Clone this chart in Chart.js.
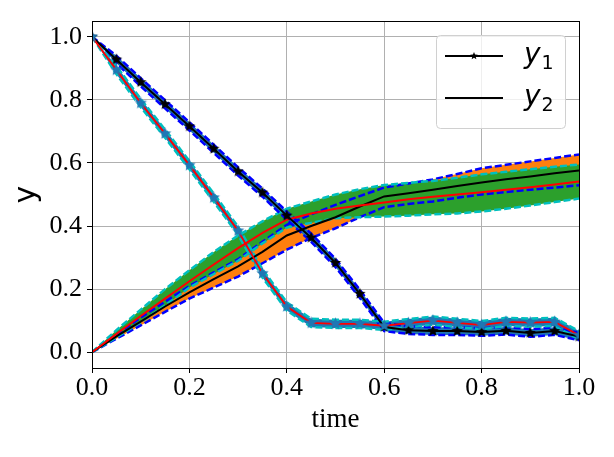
<!DOCTYPE html>
<html>
<head>
<meta charset="utf-8">
<script src="https://cdn.jsdelivr.net/npm/chart.js@4"></script>
<style>
  html, body { margin: 0; padding: 0; background: #fff; }
  canvas { display: block; }
</style>
</head>
<body>
<canvas id="chart" width="614" height="457"></canvas>
<script>
// time grid (every 0.05)
const t = [0, 0.05, 0.1, 0.15, 0.2, 0.25, 0.3, 0.35, 0.4, 0.45, 0.5, 0.55, 0.6, 0.65, 0.7, 0.75, 0.8, 0.85, 0.9, 0.95, 1.0];

// y1 reference (black, stars) and its band
const y1 = [1.0, 0.928, 0.856, 0.786, 0.716, 0.645, 0.573, 0.506, 0.433, 0.363, 0.283, 0.185, 0.08, 0.07, 0.067, 0.067, 0.064, 0.068, 0.061, 0.067, 0.05];
const y1Upper = [1.0, 0.94, 0.869, 0.799, 0.729, 0.658, 0.586, 0.519, 0.446, 0.376, 0.296, 0.198, 0.093, 0.082, 0.079, 0.079, 0.076, 0.08, 0.073, 0.079, 0.062];
const y1Lower = [1.0, 0.916, 0.843, 0.773, 0.703, 0.632, 0.56, 0.493, 0.42, 0.35, 0.27, 0.172, 0.067, 0.058, 0.055, 0.055, 0.052, 0.056, 0.049, 0.055, 0.038];

// y1 second estimate (red line, blue stars) and its band
const y1Est = [1.0, 0.895, 0.79, 0.693, 0.593, 0.49, 0.385, 0.25, 0.145, 0.093, 0.09, 0.09, 0.084, 0.092, 0.1, 0.093, 0.086, 0.096, 0.094, 0.096, 0.054];
const y1EstUpper = [1.0, 0.908, 0.803, 0.706, 0.606, 0.503, 0.398, 0.263, 0.158, 0.106, 0.103, 0.103, 0.097, 0.105, 0.113, 0.106, 0.099, 0.109, 0.107, 0.109, 0.067];
const y1EstLower = [1.0, 0.882, 0.777, 0.68, 0.58, 0.477, 0.372, 0.237, 0.132, 0.08, 0.077, 0.077, 0.071, 0.079, 0.087, 0.08, 0.073, 0.083, 0.081, 0.083, 0.041];

// y2 reference (black) and its band
const y2 = [0, 0.05, 0.097, 0.145, 0.19, 0.232, 0.272, 0.318, 0.37, 0.40, 0.428, 0.462, 0.494, 0.504, 0.515, 0.527, 0.538, 0.548, 0.557, 0.567, 0.576];
const y2Upper = [0, 0.056, 0.11, 0.16, 0.21, 0.253, 0.295, 0.35, 0.404, 0.437, 0.467, 0.495, 0.522, 0.535, 0.548, 0.565, 0.583, 0.594, 0.605, 0.616, 0.627];
const y2Lower = [0, 0.043, 0.085, 0.128, 0.17, 0.205, 0.24, 0.282, 0.325, 0.362, 0.393, 0.428, 0.46, 0.47, 0.478, 0.49, 0.50, 0.508, 0.515, 0.522, 0.529];

// y2 second estimate (red) and its band
const y2Est = [0, 0.058, 0.115, 0.17, 0.225, 0.278, 0.33, 0.378, 0.42, 0.44, 0.455, 0.465, 0.475, 0.485, 0.493, 0.5, 0.507, 0.515, 0.523, 0.532, 0.541];
const y2EstUpper = [0, 0.07, 0.135, 0.2, 0.26, 0.318, 0.37, 0.415, 0.455, 0.478, 0.50, 0.517, 0.53, 0.537, 0.543, 0.553, 0.564, 0.572, 0.58, 0.588, 0.595];
const y2EstLower = [0, 0.047, 0.095, 0.148, 0.205, 0.248, 0.29, 0.345, 0.395, 0.41, 0.425, 0.428, 0.43, 0.433, 0.437, 0.44, 0.446, 0.455, 0.465, 0.476, 0.487];

const xTicks = [0, 0.2, 0.4, 0.6, 0.8, 1.0];
const yTicks = [0, 0.2, 0.4, 0.6, 0.8, 1.0];
const legendLabels = [['y', '1'], ['y', '2']];

(function () {
  const ORANGE = '#ff7f0e';
  const GREEN = '#2ca02c';
  const TAB_BLUE = '#1f77b4';
  const BLUE = '#0000ff';
  const CYAN = '#00bfbf';
  const RED = '#ff0000';
  const BLACK = '#000000';
  const SERIF = '"Liberation Serif", "Times New Roman", serif';

  function makeStar(color, r) {
    const c = document.createElement('canvas');
    const s = Math.ceil(r * 2 + 2);
    c.width = s; c.height = s;
    const g = c.getContext('2d');
    g.translate(s / 2, s / 2);
    g.beginPath();
    for (let i = 0; i < 10; i++) {
      const rr = i % 2 === 0 ? r : r * 0.45;
      const a = -Math.PI / 2 + i * Math.PI / 5;
      g.lineTo(rr * Math.cos(a), rr * Math.sin(a));
    }
    g.closePath();
    g.fillStyle = color;
    g.fill();
    return c;
  }

  const starBlack = makeStar(BLACK, 6);
  const starBlue = makeStar(TAB_BLUE, 6.5);
  const starLegend = makeStar(BLACK, 4);

  function series(values) {
    return t.map(function (x, i) { return { x: x, y: values[i] }; });
  }

  function bound(values, color, fillColor) {
    return {
      data: series(values),
      borderColor: color,
      borderWidth: 2.5,
      borderDash: [7, 3],
      pointRadius: 0,
      fill: fillColor ? '-1' : false,
      backgroundColor: fillColor || 'transparent'
    };
  }

  function line(values, color, width) {
    return { data: series(values), borderColor: color, borderWidth: width, pointRadius: 0, fill: false };
  }

  const datasets = [
    bound(y2Lower, BLUE), bound(y2Upper, BLUE, ORANGE),
    bound(y2EstLower, CYAN), bound(y2EstUpper, CYAN, GREEN),
    bound(y1Lower, BLUE), bound(y1Upper, BLUE, TAB_BLUE),
    bound(y1EstLower, CYAN), bound(y1EstUpper, CYAN, TAB_BLUE),
    line(y2, BLACK, 2),
    line(y2Est, RED, 2),
    Object.assign(line(y1, BLACK, 2), { pointRadius: 4, pointStyle: starBlack }),
    line(y1Est, RED, 1.8),
    { data: series(y1Est), showLine: false, pointRadius: 4, pointStyle: starBlue, borderColor: TAB_BLUE, backgroundColor: TAB_BLUE }
  ];
  // later datasets on top
  datasets.forEach(function (d, i) { d.order = 100 - i; d.tension = 0; });

  const framePlugin = {
    id: 'frame',
    afterDraw: function (chart) {
      const a = chart.chartArea;
      const ctx = chart.ctx;
      ctx.save();
      ctx.strokeStyle = BLACK;
      ctx.lineWidth = 1;
      ctx.strokeRect(Math.round(a.left) + 0.5, Math.round(a.top) + 0.5, Math.round(a.right - a.left), Math.round(a.bottom - a.top));
      ctx.restore();
    }
  };

  const legendPlugin = {
    id: 'boxLegend',
    afterDraw: function (chart) {
      const a = chart.chartArea;
      const ctx = chart.ctx;
      const w = 129, h = 93;
      const x0 = a.right - 14 - w;
      const y0 = a.top + 14;
      ctx.save();
      ctx.beginPath();
      ctx.roundRect(x0 + 0.5, y0 + 0.5, w, h, 4);
      ctx.fillStyle = 'rgba(255,255,255,0.8)';
      ctx.fill();
      ctx.strokeStyle = '#d0d0d0';
      ctx.lineWidth = 1;
      ctx.stroke();
      legendLabels.forEach(function (lab, i) {
        const ly = y0 + 21 + i * 42;
        ctx.beginPath();
        ctx.moveTo(x0 + 9, ly);
        ctx.lineTo(x0 + 67, ly);
        ctx.strokeStyle = BLACK;
        ctx.lineWidth = 2;
        ctx.stroke();
        if (i === 0) ctx.drawImage(starLegend, x0 + 38 - starLegend.width / 2, ly - starLegend.height / 2);
        ctx.fillStyle = BLACK;
        ctx.textBaseline = 'alphabetic';
        ctx.textAlign = 'left';
        ctx.font = 'italic 28px "DejaVu Sans"';
        ctx.fillText(lab[0], x0 + 88, ly + 7);
        const yw = ctx.measureText(lab[0]).width;
        ctx.font = '19px "DejaVu Sans"';
        ctx.fillText(lab[1], x0 + 88 + yw + 1, ly + 13);
      });
      ctx.restore();
    }
  };

  new Chart(document.getElementById('chart').getContext('2d'), {
    type: 'line',
    data: { datasets: datasets },
    options: {
      responsive: false,
      animation: false,
      devicePixelRatio: 1,
      layout: { padding: { left: 0, right: 35, top: 21, bottom: 0 } },
      plugins: {
        legend: { display: false },
        tooltip: { enabled: false },
        filler: { drawTime: 'beforeDatasetsDraw' }
      },
      scales: {
        x: {
          type: 'linear',
          min: 0,
          max: 1,
          afterBuildTicks: function (scale) { scale.ticks = xTicks.map(function (v) { return { value: v }; }); },
          afterFit: function (scale) { scale.height = 89; },
          border: { display: false },
          grid: { color: '#b0b0b0', lineWidth: 1, drawTicks: true, tickLength: 5, tickColor: BLACK, tickWidth: 1 },
          ticks: {
            color: BLACK,
            padding: 0,
            maxRotation: 0,
            font: { family: SERIF, size: 26 },
            callback: function (v) { return Number(v).toFixed(1); }
          },
          title: { display: true, text: 'time', color: BLACK, font: { family: SERIF, size: 27 }, padding: { top: 0, bottom: 21 } }
        },
        y: {
          type: 'linear',
          min: -0.05,
          max: 1.05,
          afterBuildTicks: function (scale) { scale.ticks = yTicks.map(function (v) { return { value: v }; }); },
          afterFit: function (scale) { scale.width = 92; },
          border: { display: false },
          grid: { color: '#b0b0b0', lineWidth: 1, drawTicks: true, tickLength: 5, tickColor: BLACK, tickWidth: 1 },
          ticks: {
            color: BLACK,
            padding: 5,
            font: { family: SERIF, size: 26 },
            callback: function (v) { return Number(v).toFixed(1); }
          },
          title: { display: true, text: 'y', color: BLACK, font: { family: '"DejaVu Sans"', size: 30 }, padding: { top: 9, bottom: 0 } }
        }
      }
    },
    plugins: [framePlugin, legendPlugin]
  });
})();
</script>
</body>
</html>
